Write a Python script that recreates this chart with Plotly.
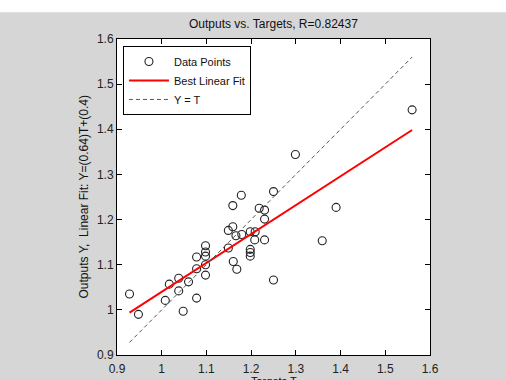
import plotly.graph_objects as go

# Network targets and outputs
targets = [0.928, 0.948, 1.008, 1.017, 1.038, 1.038, 1.048, 1.060, 1.078, 1.078,
           1.078, 1.098, 1.098, 1.098, 1.098, 1.098, 1.149, 1.159, 1.149, 1.160,
           1.168, 1.166, 1.179, 1.178, 1.159, 1.198, 1.209, 1.208, 1.230, 1.218,
           1.230, 1.230, 1.198, 1.198, 1.198, 1.250, 1.250, 1.299, 1.359, 1.390,
           1.560]
outputs = [1.035, 0.990, 1.021, 1.057, 1.070, 1.042, 0.997, 1.062, 1.117, 1.091,
           1.026, 1.142, 1.128, 1.119, 1.100, 1.077, 1.137, 1.184, 1.176, 1.107,
           1.090, 1.164, 1.167, 1.254, 1.231, 1.173, 1.173, 1.155, 1.155, 1.225,
           1.221, 1.201, 1.134, 1.127, 1.119, 1.262, 1.066, 1.344, 1.153, 1.227,
           1.443]

# Linear fit Y = slope*T + intercept, and correlation
slope = 0.64
intercept = 0.4
r_value = 0.82437

x_ticks = [0.9, 1.0, 1.1, 1.2, 1.3, 1.4, 1.5, 1.6]
y_ticks = [0.9, 1.0, 1.1, 1.2, 1.3, 1.4, 1.5, 1.6]
x_tick_text = ["0.9", "1", "1.1", "1.2", "1.3", "1.4", "1.5", "1.6"]
y_tick_text = ["0.9", "1", "1.1", "1.2", "1.3", "1.4", "1.5", "1.6"]

t_min, t_max = min(targets), max(targets)
fit_x = [t_min, t_max]
fit_y = [slope * t + intercept for t in fit_x]

FONT = "Liberation Sans, Arial, Helvetica, sans-serif"
BG = "#d6d6d6"

fig = go.Figure()
fig.add_trace(go.Scatter(
    x=targets, y=outputs, mode="markers", name="Data Points",
    marker=dict(symbol="circle-open", size=8, color="#222222", line=dict(width=1.1)),
))
fig.add_trace(go.Scatter(
    x=fit_x, y=fit_y, mode="lines", name="Best Linear Fit",
    line=dict(color="#ff0000", width=2),
))
fig.add_trace(go.Scatter(
    x=fit_x, y=fit_x, mode="lines", name="Y = T",
    line=dict(color="#555555", width=1, dash="4px,3px"),
))

axis_common = dict(
    showgrid=False, zeroline=False, showline=True, linecolor="black", linewidth=1,
    mirror="ticks", ticks="inside", ticklen=5, tickcolor="black", automargin=False,
    tickfont=dict(family=FONT, size=12, color="#222222"),
)

fig.update_layout(
    width=506, height=380, autosize=False,
    margin=dict(l=117, r=76, t=39, b=25, pad=0, autoexpand=False),
    paper_bgcolor=BG, plot_bgcolor="white",
    showlegend=True,
    legend=dict(
        x=0.019, y=0.978, xanchor="left", yanchor="top",
        bgcolor="white", bordercolor="black", borderwidth=1,
        font=dict(family=FONT, size=11, color="#111111"),
        tracegroupgap=0, itemwidth=40,
    ),
    xaxis=dict(range=[0.9, 1.6], tickvals=x_ticks, ticktext=x_tick_text,
               ticklabelstandoff=3, **axis_common),
    yaxis=dict(range=[0.9, 1.6], tickvals=y_ticks, ticktext=y_tick_text, **axis_common),
    annotations=[
        dict(text=f"Outputs vs. Targets, R={r_value}", xref="paper", yref="paper",
             x=0.5, y=1.047, xanchor="center", yanchor="middle", showarrow=False,
             font=dict(family=FONT, size=12, color="#111111")),
        dict(text=f"Outputs Y,  Linear Fit: Y=({slope})T+({intercept})",
             xref="paper", yref="paper", x=-0.107, y=0.5, textangle=-90,
             xanchor="center", yanchor="middle", showarrow=False,
             font=dict(family=FONT, size=12, color="#111111")),
        dict(text="Targets T", xref="paper", yref="paper",
             x=0.5, y=-0.082, xanchor="center", yanchor="middle", showarrow=False,
             font=dict(family=FONT, size=11, color="#111111")),
    ],
    shapes=[
        dict(type="rect", xref="paper", yref="paper", x0=-0.4, x1=1.3,
             y0=1.085, y1=1.2, fillcolor="white", line=dict(width=0), layer="below"),
    ],
)

fig.write_html("out.html")
